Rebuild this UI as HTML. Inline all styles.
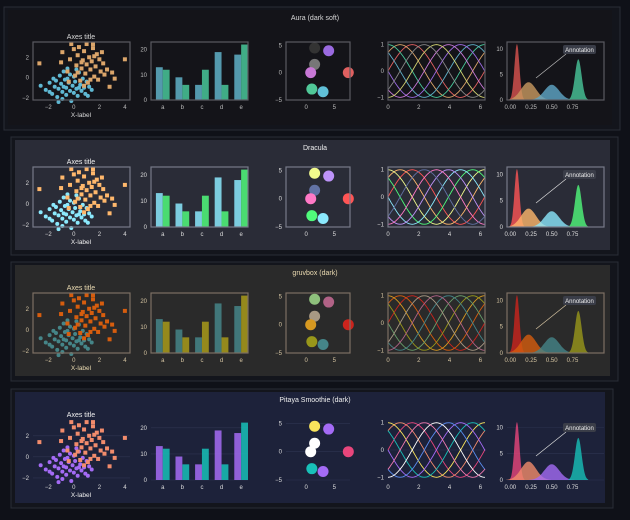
<!DOCTYPE html>
<html><head><meta charset="utf-8"><style>
html,body{margin:0;padding:0;background:#0f1118;}
svg{display:block;font-family:"Liberation Sans",sans-serif;}
</style></head><body>
<svg id="c" width="630" height="520" viewBox="0 0 630 520"></svg>
<script>
const barCats=['a','b','c','d','e'];
const barA=[13,9,6,19,18];
const barB=[12,6,12,6,22];
const scatA=[[-2.6,-0.8],[-2.2,-1.2],[-1.9,-0.5],[-1.7,-1.6],[-1.5,-0.9],[-1.4,-0.3],[-1.3,-1.9],[-1.2,-1.1],[-1.1,0.2],[-1.0,-0.6],[-0.9,-1.4],[-0.9,-2.1],[-0.8,0.6],[-0.7,-0.2],[-0.6,-1.0],[-0.6,-1.7],[-0.5,0.9],[-0.4,-0.5],[-0.3,-1.3],[-0.3,0.3],[-0.2,-2.3],[-0.1,-0.8],[0.0,-1.5],[0.0,0.1],[0.1,-0.4],[0.2,-1.1],[0.3,-1.8],[0.4,0.5],[0.5,-0.7],[0.6,-1.3],[0.7,-0.1],[0.8,-1.0],[0.9,-1.6],[1.0,-0.4],[1.2,-0.9],[1.4,-1.2],[-1.6,-0.1],[-1.2,-2.4],[-0.5,-0.1],[0.2,0.8],[-0.8,-0.9],[0.4,-1.0],[-1.9,-1.4],[1.1,-1.8]];
const scatB=[[-2.7,1.4],[-1.0,1.5],[-0.9,2.5],[-0.5,0.6],[-0.3,1.8],[-0.2,3.3],[0.0,2.8],[0.1,0.2],[0.2,1.2],[0.3,2.2],[0.4,3.0],[0.5,-0.3],[0.6,0.9],[0.7,1.7],[0.8,2.6],[0.9,0.4],[1.0,1.3],[1.0,3.3],[1.1,-0.5],[1.2,2.0],[1.3,0.8],[1.4,1.6],[1.5,2.9],[1.5,3.3],[1.6,0.1],[1.7,1.1],[1.8,2.3],[1.9,-0.2],[2.0,1.8],[2.1,0.6],[2.3,1.4],[2.4,0.3],[2.6,0.8],[2.8,-0.9],[3.0,0.5],[3.2,-0.1],[4.0,1.8],[0.3,0.5],[0.8,-0.8],[1.3,-0.2],[-0.4,-0.4],[0.6,1.5],[2.2,2.5],[1.6,2.1]];
const circX=[1.5,4,1.5,0.8,7.5,1,3];
const circY=[4.5,4,1.5,0,0,-3,-3.5];
const histMean=[0.08,0.22,0.5,0.82];
const histSd=[0.03,0.09,0.09,0.04];
const histPeak=[11,3.5,3,8];
const rows=[
 {name:'Aura (dark soft)',px:8,py:10,pw:604,ph:115,bg:'#141419',top:42,bot:100,frame:'#5a5a62',txt:'#d8d8d8',tick:'#bbb',
  sa:'#5fb8d3',sb:'#dba56a',ba:'#5fb0c8',bb:'#48c79a',circ:['#333','#9a6ae0','#777','#c878d6','#e06060','#50c898','#60c0d8'],
  lines:['#e06060','#dba56a','#48c79a','#5fb0c8','#9a6ae0','#c878d6','#d0d070','#888'],hist:['#d9534f','#c99a60','#5fa8c8','#48c79a'],grid:false},
 {name:'Dracula',px:15,py:140,pw:595,ph:110,bg:'#2a2c37',top:167,bot:227,frame:'#777a88',txt:'#f0f0f0',tick:'#ddd',
  sa:'#8be9fd',sb:'#ffb86c',ba:'#8be9fd',bb:'#50fa7b',circ:['#f1fa8c','#bd93f9','#6272a4','#ff79c6','#ff5555','#50fa7b','#8be9fd'],
  lines:['#ff5555','#ffb86c','#f1fa8c','#50fa7b','#8be9fd','#bd93f9','#ff79c6','#6272a4'],hist:['#ff5555','#ffb86c','#8be9fd','#50fa7b'],grid:false},
 {name:'gruvbox (dark)',px:15,py:265,pw:595,ph:111,bg:'#2a2a2a',top:293,bot:353,frame:'#7c6f64',txt:'#ebdbb2',tick:'#d5c4a1',
  sa:'#458588',sb:'#d65d0e',ba:'#458588',bb:'#a89a1a',circ:['#8ec07c','#b16286','#a89984','#d79921','#cc241d','#98971a','#458588'],
  lines:['#cc241d','#d65d0e','#d79921','#98971a','#689d6a','#458588','#b16286','#a89984'],hist:['#cc241d','#d65d0e','#458588','#98971a'],grid:false},
 {name:'Pitaya Smoothie (dark)',px:15,py:392,pw:590,ph:111,bg:'#1d223a',top:420,bot:480,frame:null,txt:'#f0f0f0',tick:'#ddd',
  sa:'#a46bf5',sb:'#f28c6c',ba:'#a46bf5',bb:'#18c0b8',circ:['#f9e45c','#a46bf5','#ffffff','#ffffff','#e8467c','#18c0b8','#a46bf5'],
  lines:['#e8467c','#f28c6c','#f9e45c','#18c0b8','#a46bf5','#5a8cf0','#ffffff','#f07ab0'],hist:['#e8467c','#f28c6c','#a46bf5','#18c0b8'],grid:true}
];
const svg=document.getElementById('c');
const NS='http://www.w3.org/2000/svg';
function el(tag,attrs,parent,text){const e=document.createElementNS(NS,tag);for(const k in attrs)e.setAttribute(k,attrs[k]);if(text!==undefined)e.textContent=text;(parent||svg).appendChild(e);return e;}
function lin(d0,d1,r0,r1){return v=>r0+(v-d0)*(r1-r0)/(d1-d0);}
function axesFrame(g,R,x0,x1,name){
  if(R.frame){const f=el('rect',{x:x0,y:R.top,width:x1-x0,height:R.bot-R.top,fill:'none',stroke:R.frame,'stroke-width':1.2},g);
  }
}
function tickY(g,R,x0,x1,sy,vals,labels,name){
  vals.forEach((v,i)=>{const y=sy(v);
    if(R.grid){const gl=el('line',{x1:x0,x2:x1,y1:y,y2:y,stroke:'#2e3450','stroke-width':0.6},g);}
    const t=el('text',{x:x0-4,y:y+2,'font-size':6,fill:R.tick,'text-anchor':'end'},g,labels[i]);
    });
}
function tickX(g,R,sx,vals,labels,name){
  vals.forEach((v,i)=>{const t=el('text',{x:sx(v),y:R.bot+9,'font-size':6,fill:R.tick,'text-anchor':'middle'},g,labels[i]);
    });
}
rows.forEach((R,ri)=>{
  const g=el('g',{});
  
  
  const ob=el('rect',{x:R.px-4,y:R.py-3,width:R.pw+12,height:R.ph+8,fill:'#13151c',stroke:'#2a2d36','stroke-width':1},g);
  
  const p=el('rect',{x:R.px,y:R.py,width:R.pw,height:R.ph,fill:R.bg},g);
  
  const tt=el('text',{x:315,y:R.py+10,'font-size':7,fill:R.txt,'text-anchor':'middle'},g,R.name);
  
  // scatter
  let sx=lin(-3.2,4.4,33,130), sy=lin(-2.2,3.5,R.bot,R.top);
  tickY(g,R,33,130,sy,[-2,0,2],['−2','0','2'],'scatter');
  scatA.forEach(p=>{const c=el('circle',{cx:sx(p[0]),cy:sy(p[1]),r:2,fill:R.sa},g);});
  scatB.forEach(p=>{const c=el('rect',{x:sx(p[0])-2,y:sy(p[1])-2,width:4,height:4,fill:R.sb},g);});
  axesFrame(g,R,33,130,'scatter');
  tickX(g,R,sx,[-2,0,2,4],['−2','0','2','4'],'scatter');
  const at=el('text',{x:81,y:R.top-3,'font-size':7,fill:R.txt,'text-anchor':'middle'},g,'Axes title');
  
  const xl=el('text',{x:81,y:R.bot+17,'font-size':6.5,fill:R.txt,'text-anchor':'middle'},g,'X-label');
  
  // bars
  sx=lin(-0.6,4.35,151,248); sy=lin(0,23,R.bot,R.top);
  tickY(g,R,151,248,sy,[0,10,20],['0','10','20'],'bar');
  barCats.forEach((c,i)=>{
    const b1=el('rect',{x:sx(i-0.35),y:sy(barA[i]),width:sx(0)-sx(-0.35),height:sy(0)-sy(barA[i]),fill:R.ba,opacity:0.85},g);
    
    const b2=el('rect',{x:sx(i),y:sy(barB[i]),width:sx(0)-sx(-0.35),height:sy(0)-sy(barB[i]),fill:R.bb,opacity:0.85},g);
    
  });
  axesFrame(g,R,151,248,'bar');
  tickX(g,R,sx,[0,1,2,3,4],barCats,'bar');
  // circles
  sx=lin(-3.6,7.8,286,350); sy=lin(-5,5.6,R.bot,R.top);
  tickY(g,R,286,350,sy,[-5,0,5],['−5','0','5'],'circle');
  circX.forEach((x,i)=>{const c=el('circle',{cx:sx(x),cy:sy(circY[i]),r:5.5,fill:R.circ[i]},g);});
  axesFrame(g,R,286,350,'circle');
  tickX(g,R,sx,[0,5],['0','5'],'circle');
  // lines
  sx=lin(0,6.3,388,485); sy=lin(-1.1,1.1,R.bot,R.top);
  tickY(g,R,388,485,sy,[-1,0,1],['−1','0','1'],'lines');
  R.lines.forEach((col,k)=>{let d='';for(let j=0;j<=60;j++){const x=6.3*j/60;d+=(j?'L':'M')+sx(x).toFixed(1)+','+sy(Math.sin(x+k*Math.PI/4)).toFixed(1);}
    const pth=el('path',{d:d,fill:'none',stroke:col,'stroke-width':0.9},g);});
  axesFrame(g,R,388,485,'lines');
  tickX(g,R,sx,[0,2,4,6],['0','2','4','6'],'lines');
  // hist
  sx=lin(-0.04,1.13,507,604); sy=lin(0,11.4,R.bot,R.top);
  tickY(g,R,507,604,sy,[0,5,10],['0','5','10'],'hist');
  histMean.forEach((m,k)=>{let d='M'+sx(m-3*histSd[k])+','+sy(0);
    for(let j=0;j<=40;j++){const x=m-3*histSd[k]+6*histSd[k]*j/40;const v=histPeak[k]*Math.exp(-0.5*((x-m)/histSd[k])**2);d+='L'+sx(x).toFixed(1)+','+sy(v).toFixed(1);}
    d+='L'+sx(m+3*histSd[k])+','+sy(0)+'Z';
    const h=el('path',{d:d,fill:R.hist[k],opacity:0.8},g);});
  axesFrame(g,R,507,604,'hist');
  tickX(g,R,sx,[0,0.25,0.5,0.75],['0.00','0.25','0.50','0.75'],'hist');
  const ar=el('line',{x1:566,y1:R.top+12,x2:536,y2:R.top+36,stroke:R.tick,'stroke-width':0.7},g);
  
  const ab=el('rect',{x:563,y:R.top+3,width:33,height:9,rx:2,fill:'#3a3d48'},g);
  
  const atx=el('text',{x:579.5,y:R.top+10,'font-size':6,fill:'#eee','text-anchor':'middle'},g,'Annotation');
  
});
</script>
</body></html>
